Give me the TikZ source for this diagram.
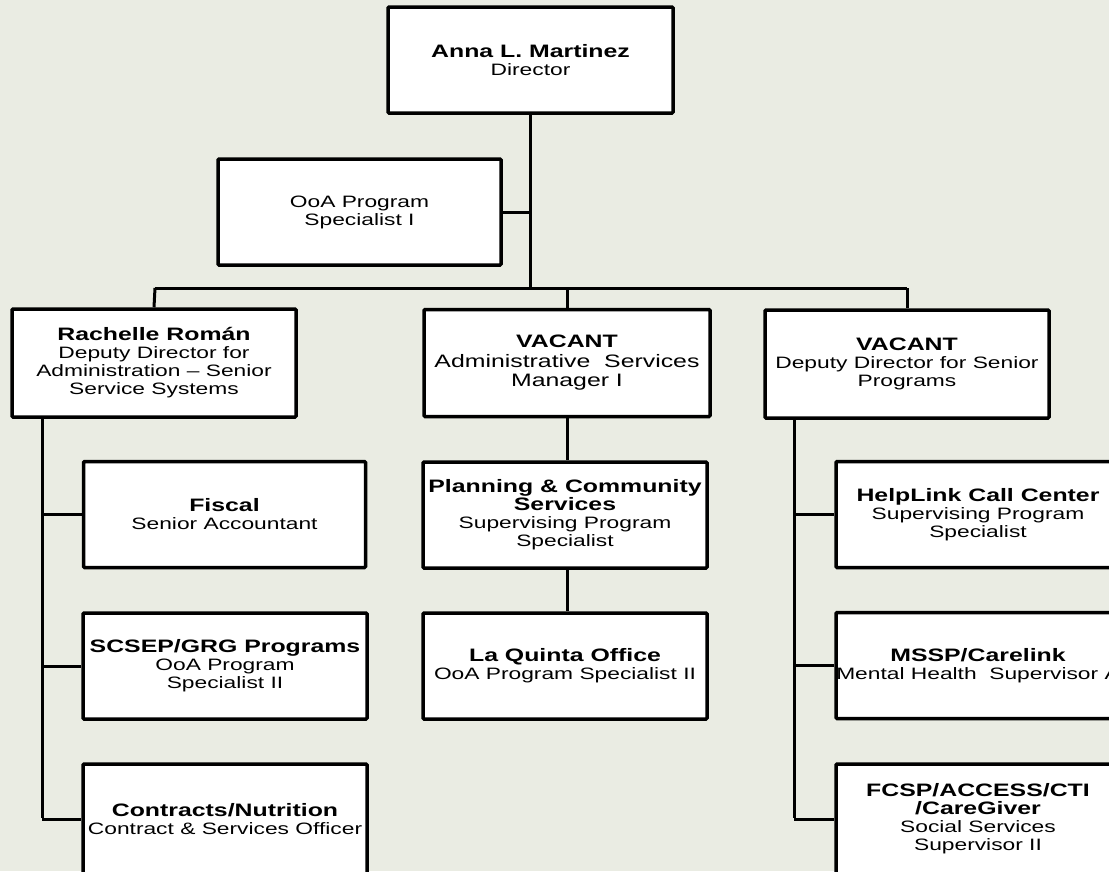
\documentclass[tikz,border=0pt]{standalone}
\usepackage{fontspec}
\setmainfont{Liberation Sans}[FakeStretch=1.38]
\definecolor{bgc}{RGB}{234,236,227}
\newcommand{\nm}[1]{{\fontsize{18}{18}\selectfont\bfseries #1}}
\tikzset{
  box/.style={draw=black, fill=white, line width=3.5pt, rounded corners=1pt,
    inner sep=0pt, align=center, minimum width=284pt, minimum height=106pt,
    font=\fontsize{16.5}{18}\selectfont},
  conn/.style={draw=black, line width=3pt}
}
\begin{document}
\begin{tikzpicture}[x=1pt,y=-1pt]
\useasboundingbox (0,0) rectangle (1109,871);
\clip (0,0) rectangle (1109,871);
\fill[bgc] (0,0) rectangle (1109,871);

% coordinates for bars and spines
\coordinate (barL) at (155,288);
\coordinate (barR) at (907,288);
\coordinate (ls) at (42,818);
\coordinate (rs) at (794,818);

% boxes
\node[box, minimum width=285pt] (dir) at (530.5,60) {\nm{Anna L. Martinez}\\Director};
\node[box, minimum width=283pt] (ooa) at (359.5,212) {OoA Program\\Specialist I};
\node[box, minimum height=108pt] (rach) at (154,363) {\nm{Rachelle Román}\\Deputy Director for\\Administration -- Senior\\Service Systems};
\node[box, minimum width=286pt, minimum height=107pt, font=\fontsize{18}{19.5}\selectfont] (mvac) at (567,363) {\nm{VACANT}\\Administrative\ \ Services\\Manager I};
\node[box, minimum height=108pt] (rvac) at (907,364) {\nm{VACANT}\\Deputy Director for Senior\\Programs};

\node[box, minimum width=282pt] (fiscal) at (224.5,514.5) {\nm{Fiscal}\\Senior Accountant};
\node[box] (scsep) at (225,666) {\nm{SCSEP/GRG Programs}\\OoA Program\\Specialist II};
\node[box, minimum height=110pt] (contr) at (225,819) {\nm{Contracts/Nutrition}\\Contract \& Services Officer};

\node[box] (plan) at (565,515) {\nm{Planning \& Community}\\\nm{Services}\\Supervising Program\\Specialist};
\node[box] (laq) at (565,666) {\nm{La Quinta Office}\\OoA Program Specialist II};

\node[box] (help) at (978,514.5) {\nm{HelpLink Call Center}\\Supervising Program\\Specialist};
\node[box] (mssp) at (978,665.5) {\nm{MSSP/Carelink}\\Mental Health\ \ Supervisor A};
\node[box, minimum height=110pt] (fcsp) at (978,819) {\nm{FCSP/ACCESS/CTI}\\\nm{/CareGiver}\\Social Services\\Supervisor II};

% connectors
\draw[conn] (dir.south) -- (dir.south |- barL);
\draw[conn] (ooa.east) -- (ooa.east -| dir.south);
\draw[conn] (barL) -- (barR);
\draw[conn] (barL) -- (rach.north);
\draw[conn] (mvac.north |- barL) -- (mvac.north);
\draw[conn] (barR) -- (rvac.north);

\draw[conn] (rach.south -| ls) -- (ls);
\draw[conn] (fiscal.west -| ls) -- (fiscal.west);
\draw[conn] (scsep.west -| ls) -- (scsep.west);
\draw[conn] (contr.west -| ls) -- (contr.west);

\draw[conn] (mvac.south) -- (plan.north -| mvac.south);
\draw[conn] (plan.south -| mvac.south) -- (laq.north -| mvac.south);

\draw[conn] (rvac.south -| rs) -- (rs);
\draw[conn] (help.west -| rs) -- (help.west);
\draw[conn] (mssp.west -| rs) -- (mssp.west);
\draw[conn] (fcsp.west -| rs) -- (fcsp.west);
\end{tikzpicture}
\end{document}
